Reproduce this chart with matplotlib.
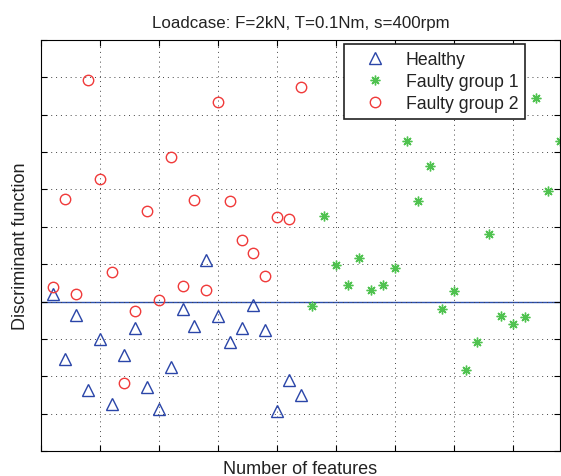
import matplotlib
matplotlib.use("Agg")
import matplotlib.pyplot as plt
import numpy as np

plt.rcParams['font.family'] = ['Liberation Sans', 'DejaVu Sans']

# Data (y axis has no labels, arbitrary units)
healthy_x = np.arange(1, 23)
healthy_y = [0.21, -1.53, -0.35, -2.38, -1.00, -2.73, -1.44, -0.71, -2.28, -2.87, -1.75,
             -0.21, -0.66, 1.12, -0.38, -1.09, -0.71, -0.08, -0.77, -2.93, -2.11, -2.51]

faulty2_x = np.arange(1, 23)
faulty2_y = [0.38, 2.74, 0.21, 5.92, 3.28, 0.79, -2.18, -0.26, 2.41, 0.05, 3.88,
             0.41, 2.71, 0.31, 5.34, 2.69, 1.66, 1.29, 0.69, 2.25, 2.21, 5.73]

faulty1_x = np.arange(23, 45)
faulty1_y = [-0.13, 2.29, 0.99, 0.43, 1.17, 0.32, 0.44, 0.91, 4.31, 2.69, 3.63,
             -0.20, 0.29, -1.82, -1.07, 1.82, -0.38, -0.59, -0.42, 5.44, 2.97, 4.31]

fig = plt.figure(figsize=(5.61, 4.77), dpi=100)
ax = fig.add_axes([41 / 561, 25 / 477, 519 / 561, 411 / 477])

ax.axhline(0, color='#2c4fb0', lw=1.0, zorder=1)
ax.plot(healthy_x, healthy_y, '^', mfc='none', mec='#2a45a8', ms=8, mew=1.0, ls='none', label='Healthy')
ax.plot(faulty1_x, faulty1_y, marker=(8, 2, 0), color='#4fc24f', ms=7, mew=1.0, ls='none', label='Faulty group 1')
ax.plot(faulty2_x, faulty2_y, 'o', mfc='none', mec='#f03a3a', ms=7.5, mew=1.0, ls='none', label='Faulty group 2')

ax.set_xlim(0, 44)
ax.set_ylim(-4, 7)
ax.set_xticks(np.arange(0, 45, 5))
ax.set_yticks(np.arange(-4, 8, 1))
ax.set_xticklabels([])
ax.set_yticklabels([])
ax.tick_params(direction='in', top=True, right=True, length=4)
ax.grid(True, ls=(0, (1, 4)), color='#444444', lw=0.7)
for s in ax.spines.values():
    s.set_linewidth(0.8)

ax.set_title('Loadcase: F=2kN, T=0.1Nm, s=400rpm', fontsize=12.2, pad=9, color='#222222')
ax.set_xlabel('Number of features', fontsize=13, labelpad=3, color='#222222')
ax.set_ylabel('Discriminant function', fontsize=13, labelpad=5, color='#222222')

leg = ax.legend(loc='upper right', bbox_to_anchor=(0.95, 1.012), fontsize=12.7,
                fancybox=False, framealpha=1, edgecolor='#222222', handletextpad=0.4,
                borderpad=0.4, labelspacing=0.28, numpoints=1, handlelength=2.7)
leg.get_frame().set_linewidth(1.2)
for t in leg.get_texts():
    t.set_color('#222222')

fig.savefig('out.png', dpi=100)
